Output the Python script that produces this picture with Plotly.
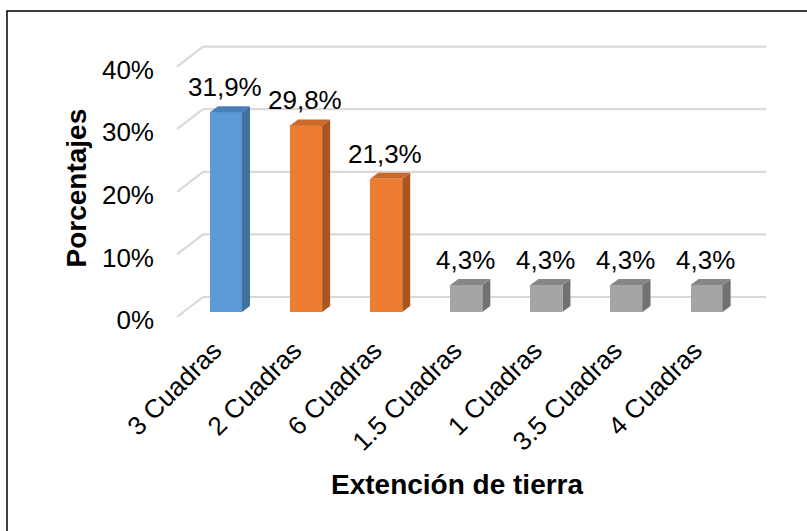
import plotly.graph_objects as go

# ---- data ----
categories = ["3 Cuadras", "2 Cuadras", "6 Cuadras", "1.5 Cuadras",
              "1 Cuadras", "3.5 Cuadras", "4 Cuadras"]
percentages = [31.9, 29.8, 21.3, 4.3, 4.3, 4.3, 4.3]
y_tick_values = [0, 10, 20, 30, 40]
y_tick_labels = ["0%", "10%", "20%", "30%", "40%"]

# ---- styling ----
FONT = "Liberation Sans, Arial, sans-serif"
BLUE = ("#5b9bd5", "#41719c", "#4a80b8")      # front, side, top
ORANGE = ("#ed7d31", "#a9561f", "#c9692a")
GRAY = ("#a5a5a5", "#717171", "#868686")
bar_styles = [BLUE, ORANGE, ORANGE, GRAY, GRAY, GRAY, GRAY]
GRID = "#d9d9d9"

W, H = 807, 531
L, R, T, B = 155, 790, 20, 329          # plot area in pixels
PX_CAT = 80.1                           # pixels per category
X0_PX = 226                             # pixel x of first category centre
PX_PCT = 6.26                           # pixels per percent
Y0_PX = 312                             # pixel y of the 0 % level (bar plane)

x_range = [(L - X0_PX) / PX_CAT, (R - X0_PX) / PX_CAT]
y_range = [(Y0_PX - B) / PX_PCT, (Y0_PX - T) / PX_PCT]


def offset(dx_px, dy_px):
    """Pixel offset of an oblique depth plane -> data units."""
    return dx_px / PX_CAT, -dy_px / PX_PCT


FRONT = offset(-6.5, 5)      # front edge of the floor / side wall
BACK = offset(19.5, -15)     # back wall
DEPTH = offset(8, -6)        # bar depth
HALF_W = 0.2                 # half bar width in category units
WALL_L, WALL_R = -0.53, 6.5


def px_to_paper(xp, yp):
    return (xp - L) / (R - L), (B - yp) / (B - T)


shapes = []
# back-wall gridlines and side-wall diagonals
for v in y_tick_values:
    shapes.append(dict(type="line", xref="x", yref="y", layer="below",
                       x0=WALL_L + BACK[0], y0=v + BACK[1],
                       x1=WALL_R + BACK[0], y1=v + BACK[1],
                       line=dict(color=GRID, width=2.2)))
    shapes.append(dict(type="line", xref="x", yref="y", layer="below",
                       x0=WALL_L + FRONT[0], y0=v + FRONT[1],
                       x1=WALL_L + BACK[0], y1=v + BACK[1],
                       line=dict(color=GRID, width=2.2)))


def poly(points):
    return "M " + " L ".join(f"{px},{py}" for px, py in points) + " Z"


# side and top faces of each 3-D column
for i, v in enumerate(percentages):
    _, side_c, top_c = bar_styles[i]
    x0, x1 = i - HALF_W, i + HALF_W
    dx, dy = DEPTH
    side = [(x1, 0), (x1 + dx, dy), (x1 + dx, v + dy), (x1, v)]
    top = [(x0, v), (x0 + dx, v + dy), (x1 + dx, v + dy), (x1, v)]
    shapes.append(dict(type="path", xref="x", yref="y", layer="above",
                       path=poly(side), fillcolor=side_c, line=dict(width=0)))
    shapes.append(dict(type="path", xref="x", yref="y", layer="above",
                       path=poly(top), fillcolor=top_c, line=dict(width=0)))

# chart frame
fx0, fy0 = px_to_paper(7, 11)
fx1, fy1 = px_to_paper(W + 20, H + 20)
shapes.append(dict(type="rect", xref="paper", yref="paper",
                   x0=fx0, y0=fy1, x1=fx1, y1=fy0,
                   line=dict(color="#000000", width=1.5)))

fig = go.Figure(go.Bar(
    x=list(range(len(categories))),
    y=percentages,
    width=2 * HALF_W,
    marker=dict(color=[s[0] for s in bar_styles], line=dict(width=0)),
    hoverinfo="skip",
))

annotations = []
for i, v in enumerate(percentages):
    annotations.append(dict(
        x=i, y=v, xref="x", yref="y", showarrow=False,
        text=f"{v:.1f}".replace(".", ",") + "%",
        yshift=25, xshift=-1, xanchor="center", yanchor="middle",
        font=dict(family=FONT, size=26, color="#000000")))

tx, ty = px_to_paper(76, 188.5)
annotations.append(dict(
    x=tx, y=ty, xref="paper", yref="paper", showarrow=False,
    text="Porcentajes", textangle=-90, xanchor="center", yanchor="middle",
    font=dict(family=FONT, size=28, color="#000000", weight="bold")))
tx, ty = px_to_paper(457, 484)
annotations.append(dict(
    x=tx, y=ty, xref="paper", yref="paper", showarrow=False,
    text="Extención de tierra", xanchor="center", yanchor="middle",
    font=dict(family=FONT, size=28, color="#000000", weight="bold")))

fig.update_layout(
    width=W, height=H,
    margin=dict(l=L, r=W - R, t=T, b=H - B, pad=0),
    paper_bgcolor="white", plot_bgcolor="rgba(0,0,0,0)",
    showlegend=False, bargap=0,
    shapes=shapes, annotations=annotations,
    xaxis=dict(range=x_range, tickmode="array",
               tickvals=list(range(len(categories))), ticktext=categories,
               tickangle=-45, showgrid=False, zeroline=False, showline=False,
               ticks="", ticklabelshift=-12,
               tickfont=dict(family=FONT, size=26, color="#000000")),
    yaxis=dict(range=y_range, tickmode="array", tickvals=y_tick_values,
               ticktext=y_tick_labels, showgrid=False, zeroline=False,
               showline=False, ticks="", ticklabelshift=8,
               tickfont=dict(family=FONT, size=26, color="#000000")),
)

fig.write_html("out.html")
